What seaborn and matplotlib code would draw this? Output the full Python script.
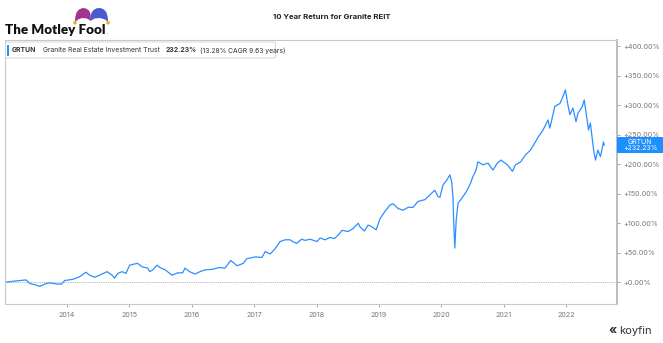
import matplotlib
matplotlib.use("Agg")
import matplotlib.pyplot as plt
import matplotlib.transforms as mtransforms
from matplotlib.patches import Rectangle, FancyBboxPatch, Ellipse, Polygon
import seaborn as sns
import pandas as pd

# ---- data ----
dates = [
    "2013-01-04", "2013-03-01", "2013-05-08", "2013-05-30", "2013-07-09", "2013-07-27",
    "2013-08-25", "2013-09-23", "2013-11-03", "2013-12-02", "2013-12-20", "2014-02-05",
    "2014-03-18", "2014-04-23", "2014-05-15", "2014-06-13", "2014-07-12", "2014-08-25",
    "2014-09-23", "2014-10-08", "2014-10-26", "2014-11-21", "2014-12-13", "2015-01-04",
    "2015-02-02", "2015-02-20", "2015-03-18", "2015-04-20", "2015-05-01", "2015-05-19",
    "2015-06-13", "2015-07-01", "2015-07-31", "2015-09-09", "2015-10-12", "2015-11-10",
    "2015-11-24", "2015-12-20", "2016-01-22", "2016-02-20", "2016-03-20", "2016-05-03",
    "2016-06-10", "2016-07-15", "2016-08-17", "2016-09-23", "2016-10-29", "2016-11-20",
    "2017-01-08", "2017-02-16", "2017-03-07", "2017-04-05", "2017-05-04", "2017-06-02",
    "2017-07-01", "2017-07-31", "2017-08-20", "2017-09-09", "2017-10-05", "2017-10-26",
    "2017-11-24", "2018-01-04", "2018-01-22", "2018-02-20", "2018-03-21", "2018-04-15",
    "2018-05-08", "2018-05-30", "2018-07-05", "2018-08-03", "2018-09-02", "2018-09-12",
    "2018-10-08", "2018-10-30", "2018-11-21", "2018-12-16", "2019-01-08", "2019-02-05",
    "2019-03-07", "2019-03-25", "2019-04-23", "2019-05-22", "2019-06-21", "2019-07-20",
    "2019-08-18", "2019-09-27", "2019-10-26", "2019-11-24", "2019-12-13", "2019-12-24",
    "2020-01-11", "2020-02-02", "2020-02-20", "2020-03-02", "2020-03-09", "2020-03-13",
    "2020-03-20", "2020-03-28", "2020-04-08", "2020-04-29", "2020-05-25", "2020-06-16",
    "2020-07-04", "2020-07-22", "2020-08-02", "2020-09-01", "2020-09-30", "2020-10-29",
    "2020-11-24", "2020-12-15", "2021-01-22", "2021-02-20", "2021-03-10", "2021-04-09",
    "2021-05-08", "2021-06-06", "2021-07-05", "2021-07-23", "2021-08-18", "2021-09-16",
    "2021-09-27", "2021-10-26", "2021-11-25", "2021-12-13", "2021-12-27", "2022-01-11",
    "2022-01-22", "2022-02-09", "2022-02-27", "2022-03-10", "2022-04-05", "2022-04-16",
    "2022-05-11", "2022-05-22", "2022-06-10", "2022-06-21", "2022-07-05", "2022-07-20",
    "2022-08-07", "2022-08-11",
]
returns = [
    0, 2, 4, -2, -5, -7,
    -3, -1, -3, -3, 3, 5,
    9.5, 17, 12, 8.5, 12, 18,
    12, 7, 15, 18, 15, 29,
    31, 32, 26, 24, 18, 21,
    29, 25, 21, 12, 16, 16,
    24, 18, 14, 18, 21, 22,
    25, 24, 37, 28, 32, 40,
    43, 42, 52, 48, 57, 69,
    72, 72, 68, 66, 73, 71,
    73, 69, 75, 72, 76, 74,
    80, 88, 86, 91, 100, 94,
    87, 97, 94, 89, 108, 120,
    131, 133, 125, 122, 127, 127,
    137, 140, 148, 156, 145, 144,
    165, 173, 182, 170, 145, 105,
    58, 105, 134, 142, 153, 165,
    179, 190, 204, 199, 202, 190,
    202, 207, 199, 188, 199, 204,
    216, 224, 238, 247, 258, 275,
    261, 298, 303, 315, 326, 300,
    284, 295, 272, 286, 298, 309,
    258, 270, 224, 207, 224, 213,
    238, 232.23,
]
ticker = "GRTUN"
name = "Granite Real Estate Investment Trust"
last_value = 232.23
subtitle = "(13.28% CAGR 9.63 years)"
title = "10 Year Return for Granite REIT"
year_ticks = list(range(2014, 2023))
y_ticks = list(range(0, 401, 50))

df = pd.DataFrame({"date": pd.to_datetime(dates), "ret": returns})

sns.set_style("white")
plt.rcParams["font.family"] = ["Inter", "DejaVu Sans"]

W, H = 663, 343
fig = plt.figure(figsize=(W / 100, H / 100), dpi=100)
ax = fig.add_axes([4.7 / W, 1 - 303.7 / H, (616.7 - 4.7) / W, (303.7 - 40.3) / H])

blue = "#2b8fff"
sns.lineplot(data=df, x="date", y="ret", ax=ax, color=blue, lw=0.9)

ax.set_xlim(pd.Timestamp("2013-01-03"), pd.Timestamp("2022-10-23"))
ax.set_ylim(-36.3, 410)
ax.axhline(0, color="#9a9a9a", ls=(0, (1, 1.2)), lw=0.6, zorder=1)

ax.yaxis.tick_right()
ax.set_yticks(y_ticks)
ax.set_yticklabels([f"+{v:.2f}%" for v in y_ticks])
ax.set_xticks([pd.Timestamp(f"{y}-01-01") for y in year_ticks])
ax.set_xticklabels([str(y) for y in year_ticks])
ax.tick_params(axis="y", right=True, length=2, width=0.6, color="#999999",
               labelsize=5.2, labelcolor="#777777", pad=2.5)
ax.tick_params(axis="x", bottom=True, length=2, width=0.6, color="#999999",
               labelsize=5.2, labelcolor="#777777", pad=4)
ax.set_xlabel("")
ax.set_ylabel("")
for side in ["left", "bottom", "top"]:
    ax.spines[side].set_color("#c8c8c8")
    ax.spines[side].set_linewidth(0.8)
ax.spines["right"].set_color("#bdbdbd")
ax.spines["right"].set_linewidth(1.4)

# last value tag on right axis
trans = mtransforms.blended_transform_factory(ax.transAxes, ax.transData)
ax.add_patch(Rectangle((1.0, last_value - 13.8), 0.08, 27.6, transform=trans,
                       facecolor="#1e8fff", edgecolor="none", clip_on=False, zorder=5))
ax.text(1.0 + 23.5 / (616.7 - 4.7), last_value, f"{ticker}\n+{last_value:.2f}%",
        transform=trans, ha="center", va="center", color="white", fontsize=5.0,
        linespacing=1.1, zorder=6, clip_on=False)


def fx(px):
    return px / W


def fy(py):
    return 1 - py / H


renderer = fig.canvas.get_renderer()

# legend box (top-left inside the plot)
fig.patches.append(FancyBboxPatch((fx(5.5), fy(58)), fx(270), 16 / H,
                                  boxstyle="round,pad=0,rounding_size=0.004",
                                  transform=fig.transFigure, facecolor="white",
                                  edgecolor="#d6d6d6", lw=0.7, zorder=3))
fig.patches.append(Rectangle((fx(7), fy(55.5)), fx(1.6), 11 / H, transform=fig.transFigure,
                             facecolor=blue, edgecolor="none", zorder=4))
ty = fy(50.3)
parts = [(ticker, "bold", 7), (name, "normal", 5), (f"{last_value:.2f}%", "bold", 4),
         (subtitle, "normal", 0)]
xcur = 12.0
for txt, wt, gap in parts:
    t = fig.text(fx(xcur), ty, txt, fontsize=4.9, fontweight=wt, color="#333333", va="center")
    bb = t.get_window_extent(renderer=renderer)
    xcur = xcur + bb.width + gap

# title
fig.text(0.5, fy(17), title, ha="center", va="center", fontsize=5.6, fontweight="bold",
         color="#222222")

# The Motley Fool logo
logo = fig.text(fx(5), fy(29.5), "The Motley Fool", fontsize=11, fontweight="heavy",
                color="#111111", va="center", ha="left", family=["Lato", "DejaVu Sans"])
lb = logo.get_window_extent(renderer=renderer)
sx = 100.0 / lb.width
logo.set_fontsize(11 * sx)
lb = logo.get_window_extent(renderer=renderer)
fig.text(lb.x1 / W + 0.001, fy(33), ".", fontsize=3.5, color="#111111", va="center")

purple_pts = [(75, 22), (75.3, 17), (76.5, 12.5), (79, 9.5), (82.5, 8), (86, 8.5), (89, 10.5),
              (90.5, 14), (91, 21), (87, 18.5), (82, 18), (78, 19.5)]
blue_pts = [(90.5, 21), (91, 14), (93, 10.5), (96.5, 8.3), (100.5, 8), (104, 9.5), (106.5, 12.5),
            (107.7, 17), (108, 22), (105, 19.5), (100, 18), (94.5, 18.5)]
fig.patches.append(Polygon([(fx(a), fy(b)) for a, b in purple_pts], closed=True,
                           transform=fig.transFigure, facecolor="#a2338f", edgecolor="none"))
fig.patches.append(Polygon([(fx(a), fy(b)) for a, b in blue_pts], closed=True,
                           transform=fig.transFigure, facecolor="#4a5bd0", edgecolor="none"))
for bx in (75, 108):
    fig.patches.append(Ellipse((fx(bx), fy(22.8)), fx(3.6), 3.6 / H, transform=fig.transFigure,
                               facecolor="#e8b21e", edgecolor="none"))

# koyfin logo
fig.text(fx(613), fy(331), "«", fontsize=9, color="#333333", va="center", ha="center",
         fontweight="bold")
fig.text(fx(619), fy(331), "koyfin", fontsize=8, color="#333333", va="center", ha="left")

fig.savefig("out.png", dpi=100, facecolor="white")
